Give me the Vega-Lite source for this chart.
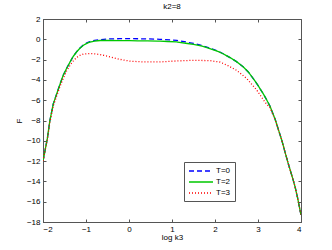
{
  "$schema": "https://vega.github.io/schema/vega-lite/v6.json",
  "width": 258,
  "height": 203,
  "autosize": "none",
  "padding": {"left": 43, "top": 19, "right": 31, "bottom": 28},
  "background": "white",
  "title": {"text": "k2=8", "fontSize": 8, "fontWeight": "normal", "font": "Liberation Sans", "offset": 4, "color": "#000"},
  "config": {
    "view": {"stroke": "#555", "strokeWidth": 1},
    "axis": {"labelFont": "Liberation Sans", "titleFont": "Liberation Sans", "labelFontSize": 8, "titleFontSize": 8, "titleFontWeight": "normal", "labelColor": "#000", "titleColor": "#000", "domainColor": "#555", "tickColor": "#555", "grid": false, "tickSize": -3}
  },
  "data": {"values": [
    {"x": -2.0, "y": -12.0, "T": "T=0"}, {"x": -1.95, "y": -10.9, "T": "T=0"}, {"x": -1.9, "y": -9.8, "T": "T=0"}, {"x": -1.84, "y": -8.0, "T": "T=0"}, {"x": -1.76, "y": -6.35, "T": "T=0"}, {"x": -1.68, "y": -5.35, "T": "T=0"}, {"x": -1.6, "y": -4.37, "T": "T=0"}, {"x": -1.53, "y": -3.55, "T": "T=0"}, {"x": -1.45, "y": -2.85, "T": "T=0"}, {"x": -1.37, "y": -2.23, "T": "T=0"}, {"x": -1.3, "y": -1.7, "T": "T=0"}, {"x": -1.22, "y": -1.23, "T": "T=0"}, {"x": -1.14, "y": -0.85, "T": "T=0"}, {"x": -1.06, "y": -0.55, "T": "T=0"}, {"x": -0.98, "y": -0.35, "T": "T=0"}, {"x": -0.91, "y": -0.22, "T": "T=0"}, {"x": -0.8, "y": -0.1, "T": "T=0"}, {"x": -0.67, "y": -0.03, "T": "T=0"}, {"x": -0.44, "y": 0.04, "T": "T=0"}, {"x": -0.21, "y": 0.06, "T": "T=0"}, {"x": 0.02, "y": 0.06, "T": "T=0"}, {"x": 0.33, "y": 0.05, "T": "T=0"}, {"x": 0.72, "y": 0.0, "T": "T=0"}, {"x": 1.11, "y": -0.1, "T": "T=0"}, {"x": 1.5, "y": -0.4, "T": "T=0"}, {"x": 1.7, "y": -0.62, "T": "T=0"}, {"x": 1.88, "y": -0.88, "T": "T=0"}, {"x": 2.08, "y": -1.18, "T": "T=0"}, {"x": 2.2, "y": -1.45, "T": "T=0"}, {"x": 2.35, "y": -1.8, "T": "T=0"}, {"x": 2.5, "y": -2.2, "T": "T=0"}, {"x": 2.66, "y": -2.73, "T": "T=0"}, {"x": 2.78, "y": -3.25, "T": "T=0"}, {"x": 2.89, "y": -3.87, "T": "T=0"}, {"x": 3.0, "y": -4.55, "T": "T=0"}, {"x": 3.12, "y": -5.35, "T": "T=0"}, {"x": 3.2, "y": -5.95, "T": "T=0"}, {"x": 3.28, "y": -6.6, "T": "T=0"}, {"x": 3.4, "y": -7.9, "T": "T=0"}, {"x": 3.55, "y": -9.9, "T": "T=0"}, {"x": 3.7, "y": -12.2, "T": "T=0"}, {"x": 3.8, "y": -13.6, "T": "T=0"}, {"x": 3.86, "y": -14.5, "T": "T=0"}, {"x": 3.92, "y": -15.6, "T": "T=0"}, {"x": 3.98, "y": -16.9, "T": "T=0"}, {"x": 4.0, "y": -17.3, "T": "T=0"},
    {"x": -2.0, "y": -12.0, "T": "T=2"}, {"x": -1.95, "y": -10.9, "T": "T=2"}, {"x": -1.9, "y": -9.8, "T": "T=2"}, {"x": -1.84, "y": -8.0, "T": "T=2"}, {"x": -1.76, "y": -6.35, "T": "T=2"}, {"x": -1.68, "y": -5.35, "T": "T=2"}, {"x": -1.6, "y": -4.37, "T": "T=2"}, {"x": -1.53, "y": -3.55, "T": "T=2"}, {"x": -1.45, "y": -2.85, "T": "T=2"}, {"x": -1.37, "y": -2.23, "T": "T=2"}, {"x": -1.3, "y": -1.7, "T": "T=2"}, {"x": -1.22, "y": -1.25, "T": "T=2"}, {"x": -1.14, "y": -0.88, "T": "T=2"}, {"x": -1.06, "y": -0.59, "T": "T=2"}, {"x": -0.98, "y": -0.4, "T": "T=2"}, {"x": -0.91, "y": -0.28, "T": "T=2"}, {"x": -0.8, "y": -0.17, "T": "T=2"}, {"x": -0.67, "y": -0.12, "T": "T=2"}, {"x": -0.44, "y": -0.12, "T": "T=2"}, {"x": -0.21, "y": -0.13, "T": "T=2"}, {"x": 0.02, "y": -0.14, "T": "T=2"}, {"x": 0.33, "y": -0.15, "T": "T=2"}, {"x": 0.72, "y": -0.18, "T": "T=2"}, {"x": 1.11, "y": -0.26, "T": "T=2"}, {"x": 1.5, "y": -0.5, "T": "T=2"}, {"x": 1.7, "y": -0.68, "T": "T=2"}, {"x": 1.88, "y": -0.92, "T": "T=2"}, {"x": 2.08, "y": -1.22, "T": "T=2"}, {"x": 2.2, "y": -1.45, "T": "T=2"}, {"x": 2.35, "y": -1.8, "T": "T=2"}, {"x": 2.5, "y": -2.2, "T": "T=2"}, {"x": 2.66, "y": -2.73, "T": "T=2"}, {"x": 2.78, "y": -3.25, "T": "T=2"}, {"x": 2.89, "y": -3.87, "T": "T=2"}, {"x": 3.0, "y": -4.55, "T": "T=2"}, {"x": 3.12, "y": -5.35, "T": "T=2"}, {"x": 3.2, "y": -5.95, "T": "T=2"}, {"x": 3.28, "y": -6.6, "T": "T=2"}, {"x": 3.4, "y": -7.9, "T": "T=2"}, {"x": 3.55, "y": -9.9, "T": "T=2"}, {"x": 3.7, "y": -12.2, "T": "T=2"}, {"x": 3.8, "y": -13.6, "T": "T=2"}, {"x": 3.86, "y": -14.5, "T": "T=2"}, {"x": 3.92, "y": -15.6, "T": "T=2"}, {"x": 3.98, "y": -16.9, "T": "T=2"}, {"x": 4.0, "y": -17.3, "T": "T=2"},
    {"x": -2.0, "y": -12.0, "T": "T=3"}, {"x": -1.95, "y": -10.95, "T": "T=3"}, {"x": -1.9, "y": -9.9, "T": "T=3"}, {"x": -1.84, "y": -8.15, "T": "T=3"}, {"x": -1.76, "y": -6.55, "T": "T=3"}, {"x": -1.68, "y": -5.55, "T": "T=3"}, {"x": -1.6, "y": -4.6, "T": "T=3"}, {"x": -1.53, "y": -3.85, "T": "T=3"}, {"x": -1.45, "y": -3.1, "T": "T=3"}, {"x": -1.37, "y": -2.55, "T": "T=3"}, {"x": -1.3, "y": -2.15, "T": "T=3"}, {"x": -1.22, "y": -1.8, "T": "T=3"}, {"x": -1.14, "y": -1.58, "T": "T=3"}, {"x": -1.06, "y": -1.45, "T": "T=3"}, {"x": -0.91, "y": -1.4, "T": "T=3"}, {"x": -0.8, "y": -1.43, "T": "T=3"}, {"x": -0.67, "y": -1.5, "T": "T=3"}, {"x": -0.44, "y": -1.74, "T": "T=3"}, {"x": -0.21, "y": -1.98, "T": "T=3"}, {"x": 0.02, "y": -2.15, "T": "T=3"}, {"x": 0.33, "y": -2.23, "T": "T=3"}, {"x": 0.72, "y": -2.23, "T": "T=3"}, {"x": 1.11, "y": -2.13, "T": "T=3"}, {"x": 1.5, "y": -2.07, "T": "T=3"}, {"x": 1.88, "y": -2.1, "T": "T=3"}, {"x": 2.12, "y": -2.25, "T": "T=3"}, {"x": 2.3, "y": -2.6, "T": "T=3"}, {"x": 2.5, "y": -3.05, "T": "T=3"}, {"x": 2.74, "y": -3.87, "T": "T=3"}, {"x": 2.97, "y": -5.0, "T": "T=3"}, {"x": 3.16, "y": -6.18, "T": "T=3"}, {"x": 3.28, "y": -6.75, "T": "T=3"}, {"x": 3.4, "y": -7.95, "T": "T=3"}, {"x": 3.55, "y": -9.9, "T": "T=3"}, {"x": 3.7, "y": -12.2, "T": "T=3"}, {"x": 3.8, "y": -13.6, "T": "T=3"}, {"x": 3.86, "y": -14.5, "T": "T=3"}, {"x": 3.92, "y": -15.6, "T": "T=3"}, {"x": 3.98, "y": -16.9, "T": "T=3"}, {"x": 4.0, "y": -17.3, "T": "T=3"}
  ]},
  "resolve": {"axis": {"x": "independent", "y": "independent"}},
  "layer": [
    {
      "mark": {"type": "line", "strokeWidth": 1.3, "clip": true},
      "encoding": {
        "x": {"field": "x", "type": "quantitative", "scale": {"domain": [-2, 4], "nice": false, "zero": false},
              "axis": {"orient": "bottom", "title": "log k3", "values": [-2, -1, 0, 1, 2, 3, 4], "labelPadding": 6, "titlePadding": 0}},
        "y": {"field": "y", "type": "quantitative", "scale": {"domain": [-18, 2], "nice": false, "zero": false},
              "axis": {"orient": "left", "title": "F", "values": [-18, -16, -14, -12, -10, -8, -6, -4, -2, 0, 2], "labelPadding": 6, "titlePadding": 3}},
        "color": {"field": "T", "type": "nominal", "scale": {"domain": ["T=0", "T=2", "T=3"], "range": ["#0000ff", "#00c800", "#ff0000"]},
                  "legend": {"title": null, "orient": "none", "legendX": 141, "legendY": 143, "symbolType": "M-1,0H5", "symbolSize": 64, "symbolStrokeWidth": 1.3, "symbolFillColor": "transparent", "labelFont": "Liberation Sans", "labelFontSize": 8, "labelColor": "#000", "strokeColor": "#555", "fillColor": "white", "padding": 4, "rowPadding": 2, "labelOffset": 18}},
        "strokeDash": {"field": "T", "type": "nominal", "scale": {"domain": ["T=0", "T=2", "T=3"], "range": [[5, 3], [10, 0], [1, 2]]}, "legend": {"title": null}}
      }
    },
    {
      "mark": {"type": "line", "strokeOpacity": 0},
      "encoding": {
        "x": {"field": "x", "type": "quantitative", "axis": {"orient": "top", "labels": false, "title": null, "values": [-2, -1, 0, 1, 2, 3, 4], "domain": false}},
        "y": {"field": "y", "type": "quantitative", "axis": {"orient": "right", "labels": false, "title": null, "values": [-18, -16, -14, -12, -10, -8, -6, -4, -2, 0, 2], "domain": false}}
      }
    }
  ]
}
